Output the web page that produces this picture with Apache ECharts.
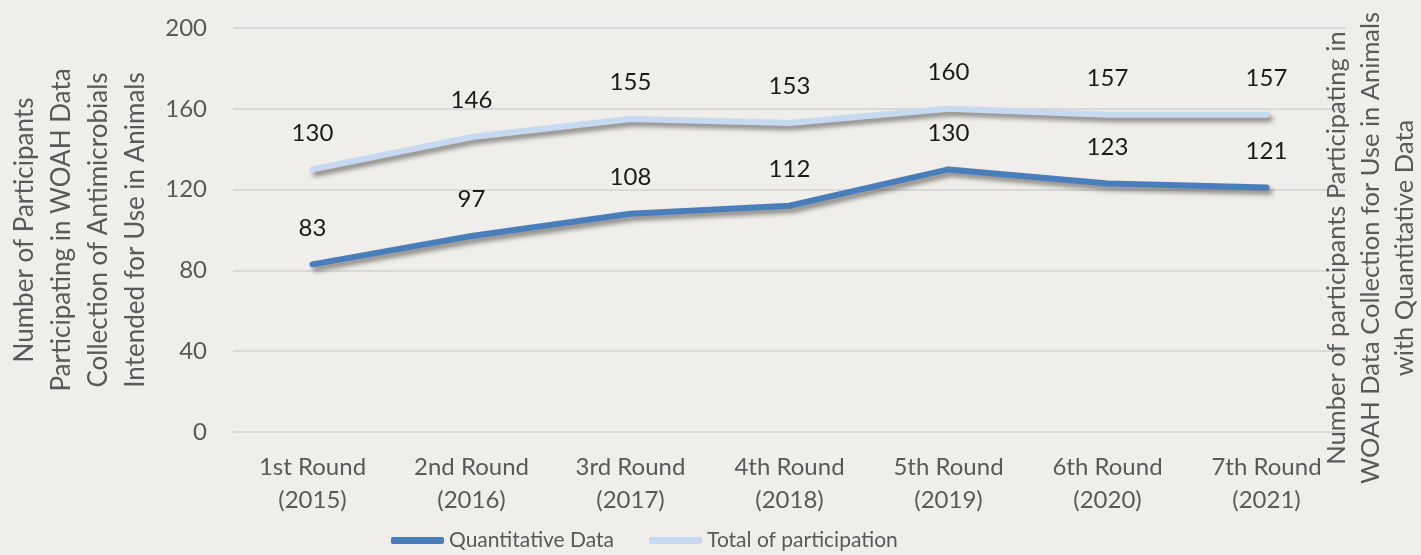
<!DOCTYPE html>
<html>
<head>
<meta charset="utf-8">
<script src="https://cdn.jsdelivr.net/npm/echarts@6/dist/echarts.min.js"></script>
<style>
html,body{margin:0;padding:0;background:#efeeea;}
#chart{width:1421px;height:555px;}
</style>
</head>
<body>
<div id="chart"></div>
<script>
const categories = ['1st Round\n(2015)','2nd Round\n(2016)','3rd Round\n(2017)','4th Round\n(2018)','5th Round\n(2019)','6th Round\n(2020)','7th Round\n(2021)'];
const quantitative = [83, 97, 108, 112, 130, 123, 121];
const total = [130, 146, 155, 153, 160, 157, 157];
const seriesNames = ['Quantitative Data', 'Total of participation'];
const leftTitle = 'Number of Participants\nParticipating in WOAH Data\nCollection of Antimicrobials\nIntended for Use in Animals';
const rightTitle = 'Number of participants Participating in\nWOAH Data Collection for Use in Animals\nwith Quantitative Data';

const FONT = 'Lato';
const colors = ['#4a7ebb', '#c6d9f1'];
const chart = echarts.init(document.getElementById('chart'));
const shadow = {shadowColor:'rgba(0,0,0,0.45)', shadowBlur:5, shadowOffsetX:3, shadowOffsetY:4};
function mkSeries(name, data, color){
  return {
    name, type:'line', data,
    symbol:'circle', symbolSize:1, showSymbol:true,
    itemStyle:{color:'rgba(0,0,0,0)'},
    lineStyle:Object.assign({color, width:6, cap:'round', join:'round'}, shadow),
    label:{show:true, position:'top', distance:24, color:'#1a1a1a', fontSize:24, fontFamily:FONT},
    emphasis:{disabled:true},
    animation:false
  };
}
chart.setOption({
  backgroundColor:'#efeeea',
  animation:false,
  grid:{left:233, right:75, top:28, bottom:123, outerBoundsMode:'none', containLabel:false},
  legend:{
    left:386, top:525, itemGap:35, itemWidth:53, itemHeight:7,
    icon:'roundRect',
    textStyle:{color:'#595959', fontSize:21, fontFamily:FONT},
    data:[{name:seriesNames[0], itemStyle:{color:colors[0]}}, {name:seriesNames[1], itemStyle:{color:colors[1]}}]
  },
  xAxis:{
    type:'category', data:categories, boundaryGap:true,
    axisLine:{show:false}, axisTick:{show:false},
    axisLabel:{color:'#595959', fontSize:24, fontFamily:FONT, margin:19, lineHeight:33}
  },
  yAxis:[{
    type:'value', min:0, max:200, interval:40,
    axisLine:{show:false}, axisTick:{show:false},
    axisLabel:{color:'#595959', fontSize:24, fontFamily:FONT, margin:26},
    splitLine:{lineStyle:{color:'#d9d9d9', width:2}},
    name:leftTitle, nameLocation:'middle', nameRotate:90, nameGap:139,
    nameTextStyle:{color:'#595959', fontSize:26, fontFamily:FONT, lineHeight:37, align:'center', verticalAlign:'middle'}
  },{
    type:'value', min:0, max:200, interval:40, position:'right',
    axisLine:{show:false}, axisTick:{show:false}, axisLabel:{show:false}, splitLine:{show:false},
    name:rightTitle, nameLocation:'middle', nameRotate:90, nameGap:25,
    nameTextStyle:{color:'#595959', fontSize:25.5, fontFamily:FONT, lineHeight:34, align:'center', verticalAlign:'middle', padding:[0,36,0,0]}
  }],
  series:[mkSeries(seriesNames[0], quantitative, colors[0]), mkSeries(seriesNames[1], total, colors[1])]
});
</script>
</body>
</html>
